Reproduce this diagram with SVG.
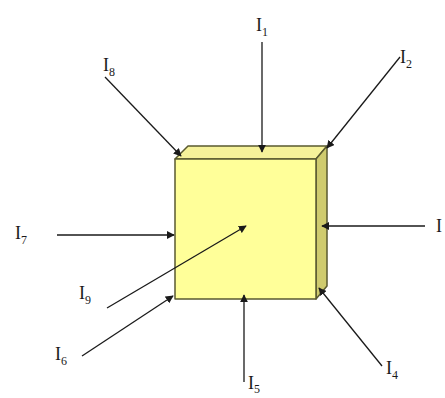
<svg xmlns="http://www.w3.org/2000/svg" width="445" height="398" viewBox="0 0 445 398">
<defs>
<style>
.lbl{font-family:"Liberation Serif","Times New Roman",serif;font-size:18px;fill:#1a1a1a}
.sub{font-size:12px}
.ln{stroke:#1a1a1a;stroke-width:1.3;fill:none;marker-end:url(#ah)}
.face{stroke:#5a5a30;stroke-width:1.5;stroke-linejoin:round}
</style>
<marker id="ah" viewBox="0 0 10 10" refX="9" refY="5" markerWidth="8" markerHeight="8" markerUnits="userSpaceOnUse" orient="auto">
<path d="M0,0 L10,5 L0,10 z" fill="#1a1a1a"/>
</marker>
</defs>
<rect width="445" height="398" fill="#ffffff"/>
<g id="box">
<polygon class="face" points="175,159 188,146 327,146 316,159" fill="#f6f29a"/>
<polygon class="face" points="316,159 327,146 327,286 316,299" fill="#cfcb6e"/>
<rect class="face" x="175" y="159" width="141" height="140" fill="#ffff99"/>
</g>
<g id="connectors">
<line class="ln" x1="262" y1="42" x2="262" y2="152"/>
<line class="ln" x1="400" y1="57" x2="327" y2="148"/>
<line class="ln" x1="425" y1="226" x2="322" y2="226"/>
<line class="ln" x1="382" y1="366" x2="319" y2="288"/>
<line class="ln" x1="244" y1="382" x2="244" y2="295"/>
<line class="ln" x1="82" y1="356" x2="173" y2="296"/>
<line class="ln" x1="57" y1="235" x2="174" y2="235"/>
<line class="ln" x1="105" y1="77" x2="181" y2="156"/>
<line class="ln" x1="107" y1="308" x2="246" y2="226"/>
</g>
<g id="labels">
<text class="lbl" x="256" y="31">I<tspan class="sub" dy="5">1</tspan></text>
<text class="lbl" x="400" y="63">I<tspan class="sub" dy="5">2</tspan></text>
<text class="lbl" x="436" y="232">I</text>
<text class="lbl" x="386" y="374">I<tspan class="sub" dy="5">4</tspan></text>
<text class="lbl" x="248" y="389">I<tspan class="sub" dy="4">5</tspan></text>
<text class="lbl" x="55" y="360">I<tspan class="sub" dy="5">6</tspan></text>
<text class="lbl" x="15" y="239">I<tspan class="sub" dy="5">7</tspan></text>
<text class="lbl" x="103" y="71">I<tspan class="sub" dy="5">8</tspan></text>
<text class="lbl" x="79" y="299">I<tspan class="sub" dy="5">9</tspan></text>
</g>
</svg>
